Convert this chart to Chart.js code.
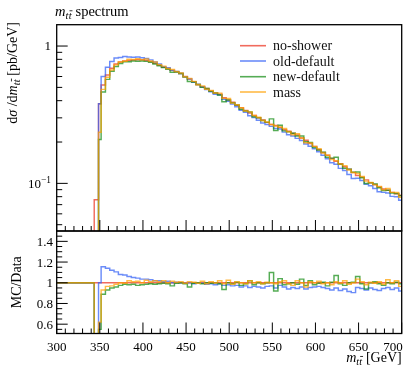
<!DOCTYPE html>
<html><head><meta charset="utf-8">
<script src="https://cdn.jsdelivr.net/npm/chart.js@4/dist/chart.umd.min.js"></script>
<style>
html,body{margin:0;padding:0;background:#fff;}
#wrap{position:relative;width:411px;height:366px;overflow:hidden;}
canvas{position:absolute;left:0;}
</style></head>
<body><div id="wrap"><canvas id="c1" width="411" height="240" style="top:0"></canvas><canvas id="c2" width="411" height="145" style="top:221px"></canvas></div>
<script>
// ---------------- data ----------------
const seriesNames = ["no-shower", "old-default", "new-default", "mass"];
const binEdges = [343.5, 348.5, 351.5, 356.5, 361.5, 366.5, 371.5, 376.5, 381.5, 386.5, 391.5,
  396.5, 401.5, 406.5, 411.5, 416.5, 421.5, 426.5, 431.5, 436.5, 441.5,
  446.5, 451.5, 456.5, 461.5, 466.5, 471.5, 476.5, 481.5, 486.5, 491.5,
  496.5, 501.5, 506.5, 511.5, 516.5, 521.5, 526.5, 531.5, 536.5, 541.5,
  546.5, 551.5, 556.5, 561.5, 566.5, 571.5, 576.5, 581.5, 586.5, 591.5,
  596.5, 601.5, 606.5, 611.5, 616.5, 621.5, 626.5, 631.5, 636.5, 641.5,
  646.5, 651.5, 656.5, 661.5, 666.5, 671.5, 676.5, 681.5, 686.5, 691.5,
  696.5, 701.5];
// dsigma/dm_tt [pb/GeV] for the no-shower sample (reference of the ratio)
const noShower = [0.076, 0.38,
  0.52, 0.615, 0.69, 0.74, 0.765, 0.78, 0.785, 0.79, 0.795, 0.795,
  0.785, 0.77, 0.75, 0.725, 0.70, 0.685, 0.665, 0.65, 0.63, 0.60,
  0.575, 0.55, 0.525, 0.505, 0.49, 0.47, 0.455, 0.445, 0.42, 0.405,
  0.39, 0.37, 0.355, 0.34, 0.325, 0.312, 0.30, 0.29, 0.278, 0.268,
  0.264, 0.255, 0.246, 0.24, 0.232, 0.225, 0.214, 0.206, 0.195, 0.186,
  0.176, 0.168, 0.16, 0.152, 0.145, 0.139, 0.132, 0.127, 0.12, 0.114,
  0.111, 0.106, 0.101, 0.098, 0.094, 0.091, 0.089, 0.086, 0.084, 0.082];
// MC / Data ratios
const ratioOldDefault = [0, 1.0,
  1.155,1.14,1.12,1.105,1.08,1.075,1.06,1.05,1.045,1.035,
  1.035,1.03,1.02,1.02,1.01,1.015,1.0,1.005,1.0,0.995,
  1.0,0.99,1.0,0.995,0.985,0.99,0.98,0.99,0.975,0.98,
  0.97,0.975,0.96,0.97,0.955,0.965,0.96,0.95,0.965,0.97,
  0.95,0.975,0.96,0.94,0.955,0.945,0.96,0.94,0.955,0.96,
  0.965,0.955,0.945,0.93,0.95,0.925,0.94,0.915,0.905,0.955,
  0.945,0.93,0.95,0.935,0.925,0.945,0.955,0.935,0.95,0.92];
const ratioNewDefault = [0, 0.55,
  0.89,0.93,0.95,0.96,0.975,0.985,0.98,0.985,0.975,0.98,
  0.985,0.99,0.985,0.99,0.995,0.99,0.97,0.995,1.0,0.99,
  0.96,0.995,1.0,0.99,1.0,0.995,1.0,0.99,0.935,1.0,
  0.99,1.005,0.975,0.99,1.02,0.98,1.0,0.99,1.0,1.10,
  0.92,1.04,0.98,0.99,1.0,0.985,1.035,0.975,1.02,0.98,
  0.995,1.005,0.97,1.005,1.07,0.99,0.975,1.0,1.005,1.06,
  0.99,0.94,1.0,1.01,0.99,0.975,1.0,0.99,1.005,0.99];
const ratioMass = [0, 0.62,
  0.93,0.965,0.97,0.985,1.0,0.995,1.02,1.01,1.015,1.0,
  1.025,1.01,1.02,1.01,1.02,1.0,1.015,1.005,1.01,0.995,
  1.01,1.005,0.995,1.015,0.99,1.01,1.0,1.02,0.99,1.025,
  0.985,1.01,1.0,0.99,1.02,1.0,1.01,0.99,1.005,1.0,
  0.99,1.01,1.02,0.99,0.975,1.02,1.0,0.96,1.01,1.0,
  1.015,0.99,1.0,0.98,1.01,0.995,1.02,0.985,1.0,1.035,
  1.01,0.98,1.005,0.995,1.01,0.985,1.03,1.0,1.02,0.965];
const xTickLabels = ["300","350","400","450","500","550","600","650","700"];
const ratioTickLabels = ["0.6","0.8","1","1.2","1.4"];

// ---------------- layout / style ----------------
const W = 411, L = 56.7, R = 401.7, T = 24.7, MID = 231, B = 333.5;
const C2TOP = 221;
const FONT = '"Liberation Serif", "Times New Roman", serif';
const colors = {
  "no-shower": "rgba(235,50,30,0.72)",
  "old-default": "rgba(50,95,245,0.72)",
  "new-default": "rgba(20,140,20,0.72)",
  "mass": "rgba(255,160,0,0.72)"
};

// ---------------- build step data ----------------
function steps(edges, vals, lead) {
  const pts = [];
  if (lead !== undefined) pts.push({x: edges[0], y: lead});
  for (let i = 0; i < vals.length; i++) {
    pts.push({x: edges[i], y: vals[i]}, {x: edges[i + 1], y: vals[i]});
  }
  return pts;
}
const ratios = {
  "no-shower": noShower.map(() => 1),
  "old-default": ratioOldDefault,
  "new-default": ratioNewDefault,
  "mass": ratioMass
};
const FLOOR = 1e-4;
const drawOrder = ["mass", "new-default", "old-default", "no-shower"];
const mainSets = drawOrder.map(n => ({
  label: n,
  data: steps(binEdges, noShower.map((v, i) => Math.max(v * ratios[n][i], FLOOR)), FLOOR),
  borderColor: colors[n], borderWidth: 1.45, pointRadius: 0, fill: false, tension: 0
}));
const ratioEdges = [300].concat(binEdges);
const ratioSets = drawOrder.map(n => ({
  label: n,
  data: steps(ratioEdges, [1].concat(ratios[n])),
  borderColor: colors[n], borderWidth: 1.45, pointRadius: 0, fill: false, tension: 0
}));

// ---------------- text helpers ----------------
const MTT = [["m","i"],["t","s"],["t","sb"]];
function partFont(style, size) {
  if (style === "i") return "italic " + size + "px " + FONT;
  if (style === "s" || style === "sb") return "italic " + (size * 0.72) + "px " + FONT;
  if (style === "sup") return (size * 0.72) + "px " + FONT;
  return size + "px " + FONT;
}
function rich(ctx, parts, x, y, size, align) {
  let total = 0; const ws = [];
  for (const [t, st] of parts) {
    ctx.font = partFont(st, size);
    const w = ctx.measureText(t).width + ((st === "s" || st === "sb") ? 0.3 : 0);
    ws.push(w); total += w;
  }
  let cx = align === "right" ? x - total : align === "center" ? x - total / 2 : x;
  ctx.textAlign = "left"; ctx.textBaseline = "alphabetic";
  parts.forEach(([t, st], i) => {
    ctx.font = partFont(st, size);
    let yy = y;
    if (st === "s" || st === "sb") yy = y + size * 0.22;
    if (st === "sup") yy = y - size * 0.38;
    ctx.fillText(t, cx, yy);
    if (st === "sb") {
      ctx.save(); ctx.lineWidth = 0.8; ctx.strokeStyle = ctx.fillStyle;
      ctx.beginPath(); ctx.moveTo(cx + 0.8, yy - size * 0.58); ctx.lineTo(cx + ws[i] + 0.6, yy - size * 0.58); ctx.stroke();
      ctx.restore();
    }
    cx += ws[i];
  });
  return total;
}
function hline(ctx, x1, y1, x2, y2) { ctx.beginPath(); ctx.moveTo(x1, y1); ctx.lineTo(x2, y2); ctx.stroke(); }

function xTicks(ctx, xs, yBase) {
  ctx.lineWidth = 1; ctx.strokeStyle = "#000";
  for (let v = 300; v <= 700; v += 10) {
    const px = xs.getPixelForValue(v);
    const len = (v % 50 === 0) ? 11 : 5;
    hline(ctx, px, yBase, px, yBase - len);
  }
}

// ---------------- main panel decorations ----------------
const mainDeco = {
  id: "mainDeco",
  afterDraw(chart) {
    const ctx = chart.ctx, xs = chart.scales.x, ys = chart.scales.y;
    ctx.save();
    ctx.fillStyle = "#000"; ctx.strokeStyle = "#000";
    ctx.lineWidth = 1;
    for (let d = -2; d <= 0; d++) {
      for (let k = 1; k <= 9; k++) {
        const v = k * Math.pow(10, d);
        if (v < ys.min || v > ys.max) continue;
        const py = ys.getPixelForValue(v);
        hline(ctx, L, py, L + (k === 1 ? 11 : 5.5), py);
      }
    }
    xTicks(ctx, xs, MID);
    ctx.lineWidth = 1.3;
    ctx.strokeRect(L, T, R - L, MID - T);
    rich(ctx, [["1","r"]], 51, ys.getPixelForValue(1) + 4, 13, "right");
    rich(ctx, [["10","r"],["\u22121","sup"]], 51, ys.getPixelForValue(0.1) + 4.5, 13, "right");
    rich(ctx, MTT.concat([[" spectrum","r"]]), 55, 16, 14.5, "left");
    ctx.save();
    ctx.translate(16.5, 22);
    ctx.rotate(-Math.PI / 2);
    rich(ctx, [["d","r"],["\u03c3","i"],[" /","r"],["d","r"]].concat(MTT).concat([[" [pb/GeV]","r"]]), 0, 0, 14, "right");
    ctx.restore();
    const ly = [45.7, 61, 76.7, 92];
    seriesNames.forEach((n, i) => {
      ctx.strokeStyle = colors[n]; ctx.lineWidth = 1.6;
      hline(ctx, 240, ly[i], 266, ly[i]);
      ctx.fillStyle = "#111";
      rich(ctx, [[n,"r"]], 273, ly[i] + 4.5, 14, "left");
    });
    ctx.restore();
  }
};

// ---------------- ratio panel decorations ----------------
const ratioDeco = {
  id: "ratioDeco",
  afterDraw(chart) {
    const ctx = chart.ctx, xs = chart.scales.x, ys = chart.scales.y;
    const top = MID - C2TOP, bot = B - C2TOP;
    ctx.save();
    ctx.fillStyle = "#000"; ctx.strokeStyle = "#000"; ctx.lineWidth = 1;
    for (let v = 0.55; v <= 1.451; v += 0.05) {
      const py = ys.getPixelForValue(v);
      const major = Math.abs(v * 5 - Math.round(v * 5)) < 1e-6;
      hline(ctx, L, py, L + (major ? 11 : 5.5), py);
    }
    xTicks(ctx, xs, bot);
    ctx.lineWidth = 1.3;
    ctx.strokeRect(L, top, R - L, bot - top);
    ratioTickLabels.forEach(t => {
      rich(ctx, [[t,"r"]], 53, ys.getPixelForValue(parseFloat(t)) + 4.5, 13, "right");
    });
    xTickLabels.forEach(t => {
      ctx.font = "13px " + FONT;
      const w = ctx.measureText(t).width;
      let px = xs.getPixelForValue(parseFloat(t));
      px = Math.min(px, R + 1 - w / 2);
      rich(ctx, [[t,"r"]], px, 351 - C2TOP, 13, "center");
    });
    rich(ctx, MTT.concat([[" [GeV]","r"]]), R, 361.5 - C2TOP, 14, "right");
    ctx.save();
    ctx.translate(21, (MID + B) / 2 - C2TOP);
    ctx.rotate(-Math.PI / 2);
    rich(ctx, [["MC/Data","r"]], 0, 0, 14, "center");
    ctx.restore();
    ctx.restore();
  }
};

const common = (padBottom, padTop) => ({
  responsive: false, animation: false, events: [],
  layout: {padding: {left: L, right: W - R, top: padTop, bottom: padBottom}},
  plugins: {legend: {display: false}, tooltip: {enabled: false}},
  elements: {line: {borderJoinStyle: "miter", borderCapStyle: "butt"}}
});

const opt1 = common(240 - MID, T);
opt1.scales = {
  x: {type: "linear", min: 300, max: 700, display: false},
  y: {type: "logarithmic", min: 0.045, max: 1.43, display: false}
};
new Chart(document.getElementById("c1"), {type: "line", data: {datasets: mainSets}, options: opt1, plugins: [mainDeco]});

const opt2 = common(145 - (B - C2TOP), MID - C2TOP);
opt2.scales = {
  x: {type: "linear", min: 300, max: 700, display: false},
  y: {type: "linear", min: 0.51, max: 1.5, display: false}
};
new Chart(document.getElementById("c2"), {type: "line", data: {datasets: ratioSets}, options: opt2, plugins: [ratioDeco]});
</script>
</body></html>
